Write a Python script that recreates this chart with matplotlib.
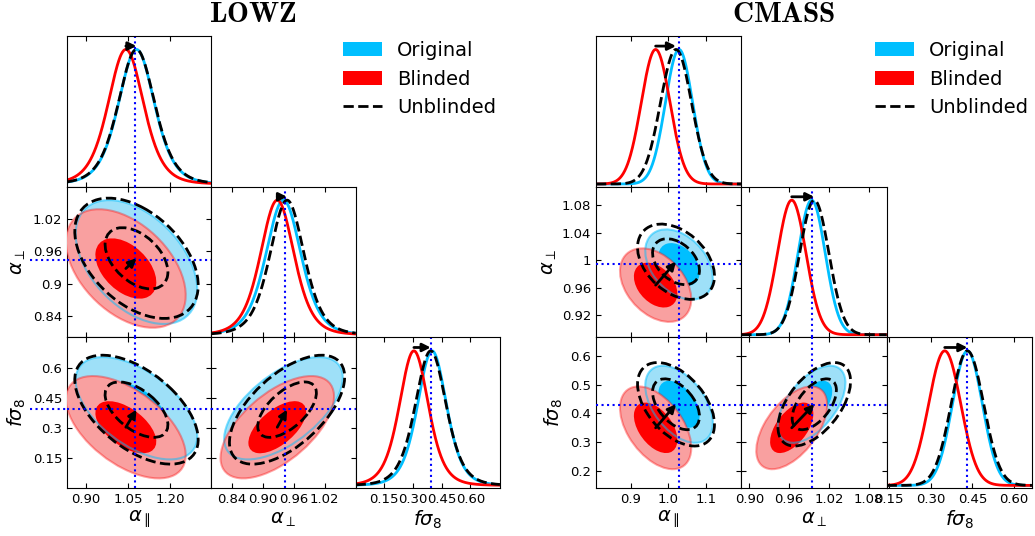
import numpy as np
import matplotlib.pyplot as plt
from matplotlib.patches import Ellipse, Patch
from matplotlib.lines import Line2D
import matplotlib.transforms as mtransforms

W, H = 1035, 536

# --- LOWZ : peaks, widths (t scale, nu=6) and correlations
lowz_ref = [1.075, 0.943, 0.397]
lowz_orig_mean = [1.08, 0.94, 0.40]
lowz_orig_width = [0.066, 0.035, 0.078]
lowz_blind_mean = [1.042, 0.928, 0.305]
lowz_blind_width = [0.065, 0.0335, 0.078]
lowz_unbl_mean = [1.08, 0.947, 0.393]
lowz_unbl_width = [0.067, 0.034, 0.083]
lowz_rho = [-0.45, -0.55, 0.6]          # (apar,aperp) (apar,fs8) (aperp,fs8)
lowz_nu = 6

# --- CMASS : gaussian
cmass_ref = [1.028, 0.994, 0.431]
cmass_orig_mean = [1.028, 0.994, 0.432]
cmass_orig_width = [0.036, 0.0205, 0.054]
cmass_blind_mean = [0.966, 0.964, 0.35]
cmass_blind_width = [0.038, 0.0215, 0.058]
cmass_unbl_mean = [1.020, 0.998, 0.432]
cmass_unbl_width = [0.041, 0.022, 0.0585]
cmass_rho = [-0.38, -0.48, 0.55]
cmass_nu = None

lowz_xticks = [[0.90, 1.05, 1.20], [0.84, 0.90, 0.96, 1.02], [0.15, 0.30, 0.45, 0.60]]
lowz_xlabels = [['0.90', '1.05', '1.20'], ['0.84', '0.90', '0.96', '1.02'], ['0.15', '0.30', '0.45', '0.60']]
lowz_yticks = [None, [0.84, 0.9, 0.96, 1.02], [0.15, 0.3, 0.45, 0.6]]
lowz_ylabels = [None, ['0.84', '0.9', '0.96', '1.02'], ['0.15', '0.3', '0.45', '0.6']]

cmass_xticks = [[0.9, 1.0, 1.1], [0.90, 0.96, 1.02, 1.08], [0.15, 0.30, 0.45, 0.60]]
cmass_xlabels = [['0.9', '1.0', '1.1'], ['0.90', '0.96', '1.02', '1.08'], ['0.15', '0.30', '0.45', '0.60']]
cmass_yticks = [None, [0.92, 0.96, 1, 1.04, 1.08], [0.2, 0.3, 0.4, 0.5, 0.6]]
cmass_ylabels = [None, ['0.92', '0.96', '1', '1.04', '1.08'], ['0.2', '0.3', '0.4', '0.5', '0.6']]

names = [r'$\alpha_\parallel$', r'$\alpha_\perp$', r'$f\sigma_8$']

BLUE = '#00BFFF'
BLUE_LIGHT = '#9EE0F8'
RED = '#FF0000'
RED_LIGHT = '#F9A0A0'

fig = plt.figure(figsize=(W / 100, H / 100), dpi=100)


def profile(x, mu, s, nu):
    z = (x - mu) / s
    if nu is None:
        return np.exp(-0.5 * z * z)
    return (1 + z * z / nu) ** (-(nu + 1) / 2)


def radius(p, nu):
    if nu is None:
        return np.sqrt(-2 * np.log(1 - p))
    return np.sqrt(nu * ((1 - p) ** (-2 / nu) - 1))


def ellipse(ax, mu, s, rho, i, j, r, **kw):
    c = rho * s[i] * s[j]
    cov = np.array([[s[i] ** 2, c], [c, s[j] ** 2]])
    vals, vecs = np.linalg.eigh(cov)
    ang = np.degrees(np.arctan2(vecs[1, 1], vecs[0, 1]))
    e = Ellipse((mu[i], mu[j]), 2 * r * np.sqrt(vals[1]), 2 * r * np.sqrt(vals[0]),
                angle=ang, **kw)
    ax.add_patch(e)


def corner(left, colw, lims, ref, om, ow, bm, bw, um, uw, rho, nu,
           xticks, xlabels, yticks, ylabels, ylab_x, hext):
    top, rowh = 36, 150.7
    r1, r2 = radius(0.6827, nu), radius(0.9545, nu)
    pair = {(0, 1): rho[0], (0, 2): rho[1], (1, 2): rho[2]}
    for r in range(3):
        for c in range(r + 1):
            ax = fig.add_axes([(left + c * colw) / W, 1 - (top + (r + 1) * rowh) / H,
                               colw / W, rowh / H])
            ax.set_xlim(lims[c])
            ax.set_xticks(xticks[c])
            if r == 2:
                ax.set_xticklabels(xlabels[c])
                ax.set_xlabel(names[c], fontsize=14, va='center')
                ax.xaxis.set_label_coords(0.5, -0.21)
            else:
                ax.set_xticklabels([])
            if r == c:
                x = np.linspace(lims[c][0], lims[c][1], 400)
                ax.plot(x, profile(x, om[c], ow[c], nu), color=BLUE, lw=2)
                ax.plot(x, profile(x, bm[c], bw[c], nu), color=RED, lw=2)
                ax.plot(x, profile(x, um[c], uw[c], nu), color='k', lw=2, ls='--')
                ax.set_ylim(-0.02, 1.1)
                ax.set_yticks([])
                ax.axvline(ref[c], color='blue', ls=':', lw=1.5)
                ax.annotate('', xy=(um[c], 1.025), xytext=(bm[c], 1.025),
                            arrowprops=dict(arrowstyle='-|>', color='k', lw=2,
                                            mutation_scale=12, shrinkA=0, shrinkB=0))
                ax.tick_params(direction='in', top=True, left=False, right=False,
                               labelsize=9.5)
            else:
                rh = pair[(c, r)]
                ax.set_ylim(lims[r])
                ellipse(ax, om, ow, rh, c, r, r2, facecolor=BLUE_LIGHT, edgecolor='none', zorder=1)
                ellipse(ax, om, ow, rh, c, r, r1, facecolor=BLUE, edgecolor='none', zorder=2)
                ellipse(ax, bm, bw, rh, c, r, r2, facecolor=RED_LIGHT, edgecolor='none', zorder=3)
                ellipse(ax, bm, bw, rh, c, r, r1, facecolor=RED, edgecolor='none', zorder=4)
                ellipse(ax, om, ow, rh, c, r, r2, fill=False, edgecolor=BLUE, alpha=0.5,
                        lw=1.5, zorder=5)
                ellipse(ax, bm, bw, rh, c, r, r2, fill=False, edgecolor=RED, alpha=0.35,
                        lw=1.5, zorder=5)
                for rr in (r1, r2):
                    ellipse(ax, um, uw, rh, c, r, rr, fill=False, edgecolor='k', ls='--',
                            lw=2, zorder=6)
                ax.axvline(ref[c], color='blue', ls=':', lw=1.5, zorder=7)
                ax.axhline(ref[r], color='blue', ls=':', lw=1.5, zorder=7)
                if c == 0 and hext:
                    tr = mtransforms.blended_transform_factory(ax.transAxes, ax.transData)
                    ax.add_line(Line2D([hext, 0], [ref[r], ref[r]], transform=tr, color='blue',
                                       ls=':', lw=1.5, clip_on=False))
                ax.annotate('', xy=(um[c], um[r]), xytext=(bm[c], bm[r]), zorder=8,
                            arrowprops=dict(arrowstyle='-|>', color='k', lw=2,
                                            mutation_scale=12, shrinkA=0, shrinkB=0))
                ax.set_yticks(yticks[r])
                if c == 0:
                    ax.set_yticklabels(ylabels[r])
                    ax.set_ylabel(names[r], fontsize=14, va='center')
                    ax.yaxis.set_label_coords(ylab_x[r], 0.5)
                else:
                    ax.set_yticklabels([])
                ax.tick_params(direction='in', top=True, right=True, labelsize=9.5)


corner(67, 144.3, [(0.832, 1.347), (0.80, 1.08), (0.0, 0.755)], lowz_ref,
       lowz_orig_mean, lowz_orig_width, lowz_blind_mean, lowz_blind_width,
       lowz_unbl_mean, lowz_unbl_width, lowz_rho, lowz_nu,
       lowz_xticks, lowz_xlabels, lowz_yticks, lowz_ylabels, [0, -0.333, -0.349], -0.256)
corner(596, 145.3, [(0.808, 1.193), (0.888, 1.107), (0.14, 0.665)], cmass_ref,
       cmass_orig_mean, cmass_orig_width, cmass_blind_mean, cmass_blind_width,
       cmass_unbl_mean, cmass_unbl_width, cmass_rho, cmass_nu,
       cmass_xticks, cmass_xlabels, cmass_yticks, cmass_ylabels, [0, -0.323, -0.29], None)

fig.text(253 / W, 1 - 14 / H, r'$\mathbf{LOWZ}$', ha='center', va='center',
         fontsize=21, math_fontfamily='cm')
fig.text(784 / W, 1 - 14 / H, r'$\mathbf{CMASS}$', ha='center', va='center',
         fontsize=21, math_fontfamily='cm')

handles = [Patch(facecolor=BLUE, edgecolor='none'), Patch(facecolor=RED, edgecolor='none'),
           Line2D([], [], color='k', ls='--', lw=2)]
labels = ['Original', 'Blinded', 'Unblinded']
for lx in (335, 867):
    fig.legend(handles, labels, loc='upper left', bbox_to_anchor=(lx / W, 1 - 33 / H),
               frameon=False, fontsize=14, labelspacing=0.5, borderaxespad=0)

fig.savefig('out.png', dpi=100)
